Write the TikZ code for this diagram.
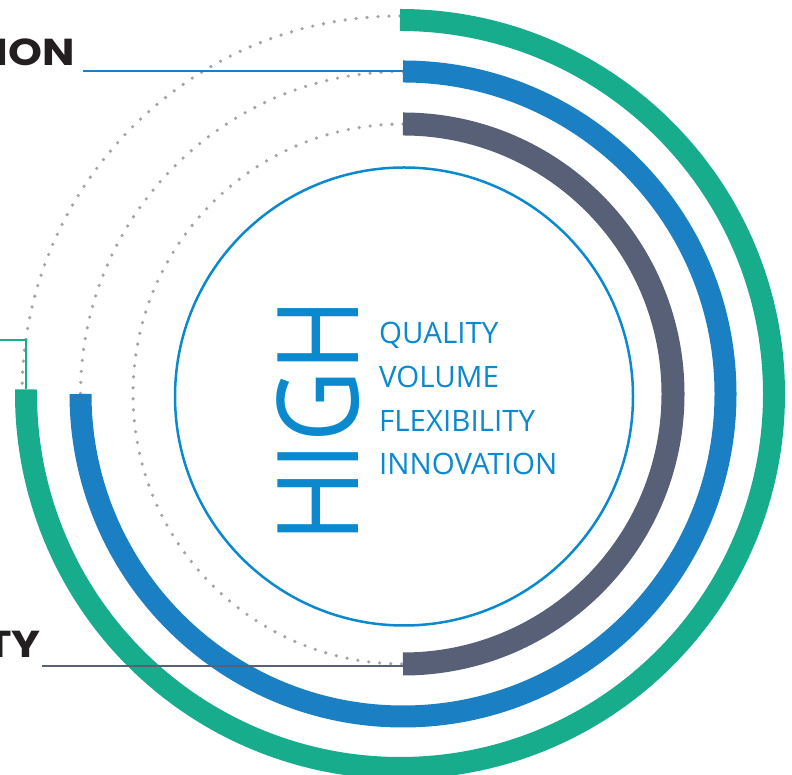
\documentclass[tikz,border=0pt]{standalone}
\usepackage{fontspec}
\newfontfamily\headfont{Poppins}
\newfontfamily\bodyfont{Open Sans}
\definecolor{ringgreen}{HTML}{16AC8C}
\definecolor{ringblue}{HTML}{1A7FC3}
\definecolor{ringgray}{HTML}{576077}
\definecolor{textblue}{HTML}{0A89CF}
\definecolor{dotgray}{HTML}{A2A4A7}
\definecolor{darktext}{HTML}{231F20}
\begin{document}
\begin{tikzpicture}[x=1pt,y=1pt,
  dotline/.style={draw=dotgray,line width=3.6pt,line cap=round,dash pattern=on 0pt off 11pt},
  ring/.style={line width=22pt,line cap=butt},
  leader/.style={line width=2pt},
  listtext/.style={text=textblue,font=\bodyfont\fontsize{29.5}{30}\selectfont,anchor=base west,inner sep=0pt},
  headtext/.style={text=darktext,font=\headfont\bfseries\fontsize{37.5}{38}\selectfont,anchor=base east,inner sep=0pt}]
\useasboundingbox (0,0) rectangle (792,775);
\coordinate (c) at (403,381);
\coordinate (cg) at (400,381);
% dotted guide arcs
\draw[dotline] (cg) ++(90:378pt) arc[start angle=90,end angle=180,radius=378pt];
\draw[dotline] (c) ++(90:322.5pt) arc[start angle=90,end angle=180,radius=322.5pt];
\draw[dotline] (c) ++(90:270pt) arc[start angle=90,end angle=270,radius=270pt];
% rings
\draw[ring,draw=ringgreen] (cg) ++(90:374pt) coordinate (gtop) arc[start angle=90,end angle=-180.7,radius=374pt] coordinate (gend);
\draw[ring,draw=ringblue] (c) ++(90:322.5pt) coordinate (btop) arc[start angle=90,end angle=-180,radius=322.5pt] coordinate (bend);
\draw[ring,draw=ringgray,line width=23pt] (c) ++(90:270pt) coordinate (ytop) arc[start angle=90,end angle=-90,radius=270pt] coordinate (ybot);
% inner circle
\node[circle,draw=textblue,line width=2.5pt,minimum size=458pt,inner sep=0pt] (inner) at (404,378.5) {};
% leaders
\coordinate (bl) at (83,703.5);
\draw[leader,draw=ringblue] (bl) -- (btop);
\coordinate (yl) at (42,108.5);
\draw[leader,draw=ringgray] (yl) -- (yl -| ybot);
\coordinate (g0) at (0,435);
\draw[leader,draw=ringgreen] (g0) -- (g0 -| gend) -- (gend);
% texts
\node[headtext] (ion) at (75,709) {\scalebox{1.15}[1]{ION}};
\node[headtext] (ty) at (41,117) {\scalebox{1.15}[1]{TY}};
\node[rotate=90,anchor=base west,inner sep=0pt,text=textblue,font=\bodyfont\fontsize{113}{113}\selectfont] (high) at (358,232) {\scalebox{0.87}[1]{HIGH}};
\node[listtext] (q1) at (379,431) {QUALITY};
\node[listtext] (q2) at (379,387) {VOLUME};
\node[listtext] (q3) at (379,343) {FLEXIBILITY};
\node[listtext] (q4) at (379,300) {INNOVATION};
\end{tikzpicture}
\end{document}
